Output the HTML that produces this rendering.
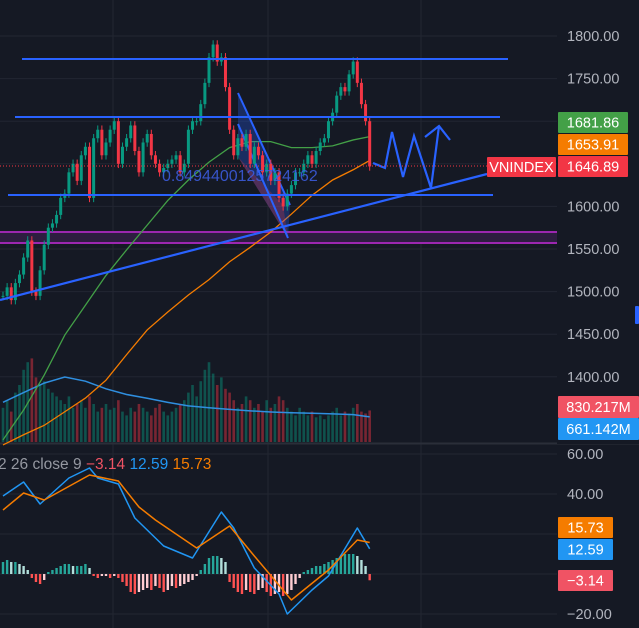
<!DOCTYPE html>
<html><head><meta charset="utf-8"><style>
html,body{margin:0;padding:0;background:#151924;overflow:hidden}
svg{display:block;font-family:"Liberation Sans",sans-serif}
</style></head><body>
<svg id="c" width="639" height="628" viewBox="0 0 639 628">
<rect width="639" height="628" fill="#151924"/>
</svg>
<script>
const closes=[1495,1505,1490,1510,1520,1540,1560,1500,1495,1525,1555,1575,1580,1590,1610,1615,1640,1650,1630,1660,1670,1610,1680,1690,1660,1675,1690,1700,1650,1670,1680,1695,1665,1640,1675,1685,1660,1650,1640,1645,1650,1655,1660,1640,1650,1690,1700,1700,1720,1745,1775,1790,1770,1775,1740,1690,1660,1680,1670,1685,1650,1670,1660,1640,1650,1630,1640,1610,1600,1615,1625,1640,1640,1650,1660,1650,1665,1675,1680,1700,1710,1730,1740,1735,1755,1770,1745,1720,1700,1646.89];
const volumes=[900,1100,800,1300,1500,1900,2100,2200,1700,1500,1600,1400,1300,1200,1100,1000,1200,900,1000,1100,900,1200,1000,800,900,1000,850,900,1100,800,700,900,800,1000,900,800,700,900,1000,800,700,800,900,1000,1100,1300,1500,1200,1600,1900,2100,1800,1500,1700,1400,1300,1100,900,1000,1200,1100,900,1000,800,1100,900,1000,1200,1100,900,800,700,900,800,700,800,650,700,600,700,800,900,700,800,750,900,1000,800,750,830.217];
const ma50Idx=[0,5,10,15,20,25,30,35,40,45,50,55,60,65,70,75,80,85,89];
const ma50=[1326,1361,1402,1449,1484,1519,1549,1578,1607,1631,1652,1669,1676,1676,1669,1669,1671,1678,1681.86];
const ma200=[1320,1332,1343,1359,1375,1396,1426,1455,1476,1496,1514,1535,1552,1570,1591,1613,1631,1643,1653.91];
const volMa=[1044,1300,1550,1711,1600,1400,1250,1150,1044,950,900,860,820,790,770,755,740,720,661.142];
const macdIdx=[0,5,9,16,21,23,28,32,39,46,53,56,61,67,69,75,79,86,89];
const macdVals=[39,46,35,48,53,48,45,28,14,8,31,23,3,-10,-20,-8,-1,23,12.59];
const sigIdx=[0,5,10,21,28,33,37,47,55,61,70,79,86,89];
const sigVals=[32,40.5,37,49.5,46.5,33.5,27,13,24,9,-13,2,17,15.73];
const hist=[6,7,6,6,5,4,2,-2,-4,-5,-3,1,2,3,4,5,5,4,4,4,5,3,-1,-2,-1,-1,-2,-1,-2,-4,-6,-9,-10,-9,-8,-7,-8,-6,-7,-9,-8,-6,-7,-6,-5,-4,-3,-1,2,5,8,9,9,8,6,-4,-7,-9,-10,-8,-9,-10,-8,-7,-9,-11,-10,-9,-11,-10,-8,-5,-2,1,2,3,4,4,5,6,7,8,9,10,10,10,9,7,4,-3.14];
const priceTicks=[1800,1750,1700,1650,1600,1550,1500,1450,1400];
const macdTicks=[60,40,20,0,-20];

const NS="http://www.w3.org/2000/svg",svg=document.getElementById('c');
function el(t,a,p){const e=document.createElementNS(NS,t);for(const k in a)e.setAttribute(k,a[k]);(p||svg).appendChild(e);return e;}
const xOf=i=>3+i*4.12;
const yP=p=>36+(1800-p)*0.852;
const yV=v=>442-v*0.038;
const yM=v=>454+(60-v)*2;

const g=el('g',{});

[113,268,421].forEach(x=>el('line',{x1:x,y1:0,x2:x,y2:628,stroke:'#222632','stroke-width':1},g));
priceTicks.forEach(p=>el('line',{x1:0,y1:yP(p),x2:557,y2:yP(p),stroke:'#222632'},g));
macdTicks.forEach(v=>el('line',{x1:0,y1:yM(v),x2:557,y2:yM(v),stroke:'#222632'},g));
el('line',{x1:0,y1:443.5,x2:639,y2:443.5,stroke:'#2a2e39','stroke-width':2},g);

const pz=el('rect',{x:0,y:232,width:557,height:11,fill:'#2d1d40'});

el('line',{x1:0,y1:232,x2:557,y2:232,stroke:'#9c27b0','stroke-width':2});
el('line',{x1:0,y1:243,x2:557,y2:243,stroke:'#9c27b0','stroke-width':2});

closes.forEach((c,i)=>{const o=i?closes[i-1]:c;const v=volumes[i];
 const r=el('rect',{x:xOf(i)-1.3,y:yV(v),width:2.6,height:442-yV(v),fill:c>=o?'rgba(8,153,129,0.45)':'rgba(242,54,69,0.45)'});
 });
const vm=el('polyline',{points:ma50Idx.map((k,j)=>xOf(k)+','+yV(volMa[j])).join(' '),fill:'none',stroke:'#2f8fe0','stroke-width':1.5});


const l1=el('polyline',{points:ma50Idx.map((k,j)=>xOf(k)+','+yP(ma50[j])).join(' '),fill:'none',stroke:'#43a047','stroke-width':1.3});

const l2=el('polyline',{points:ma50Idx.map((k,j)=>xOf(k)+','+yP(ma200[j])).join(' '),fill:'none',stroke:'#f57c00','stroke-width':1.3});


const ch=el('polygon',{points:'238,93 290,205 288,238 238,157',fill:'rgba(41,98,255,0.28)'});

el('polygon',{points:'238,157 288,238 283,205',fill:'rgba(242,54,69,0.25)'});
el('line',{x1:238,y1:93,x2:290,y2:205,stroke:'#2962ff','stroke-width':2});
el('line',{x1:238,y1:124,x2:288,y2:238,stroke:'#2962ff','stroke-width':2});

closes.forEach((c,i)=>{const o=i?closes[i-1]:c;const up=c>=o;const col=up?'#089981':'#f23645';
 const cg=el('g',{});
 
 el('line',{x1:xOf(i),y1:yP(Math.max(o,c)+5),x2:xOf(i),y2:yP(Math.min(o,c)-5),stroke:col,'stroke-width':1},cg);
 const t=yP(Math.max(o,c)),b=yP(Math.min(o,c));
 el('rect',{x:xOf(i)-1.5,y:t,width:3,height:Math.max(1,b-t),fill:col},cg);});

[[22,59,508],[15,117,500],[8,195,493]].forEach(a=>{const h=el('line',{x1:a[0],y1:a[1],x2:a[2],y2:a[1],stroke:'#2962ff','stroke-width':2});
 });
const tl=el('line',{x1:0,y1:300,x2:487,y2:174,stroke:'#2962ff','stroke-width':2.2});

const zz=el('polyline',{points:'373,163 385,168 392,132 403,177 414,136 431,188 439,126',fill:'none',stroke:'#2962ff','stroke-width':2.2});

el('polyline',{points:'425,137 439,126 450,140',fill:'none',stroke:'#2962ff','stroke-width':2.2});
const lbl=el('text',{x:162,y:181,fill:'#3d5fe6','font-size':16,opacity:0.85});lbl.textContent='0.8494400125724162';

el('line',{x1:0,y1:166,x2:557,y2:166,stroke:'#f23645','stroke-width':1,'stroke-dasharray':'1 2'});

priceTicks.forEach(p=>{const t=el('text',{x:567,y:yP(p)+5,fill:'#b2b5be','font-size':14.5});t.textContent=p.toFixed(2);
 });
function box(x,y,w,h,fill,txt,name){const b=el('g',{});
 el('rect',{x:x,y:y,width:w,height:h,fill:fill,rx:1},b);const t=el('text',{x:x+w/2,y:y+h/2+5,fill:'#fff','font-size':14.5,'text-anchor':'middle'},b);t.textContent=txt;}
el('rect',{x:557,y:430,width:82,height:14,fill:'#151924'});
box(558,112,70,21,'#43a047','1681.86','ma-green-label');
box(558,134,70,21,'#f57c00','1653.91','ma-orange-label');
box(558,156,70,21,'#f23645','1646.89','last-price-label');
box(487,157,69,20,'#f23645','VNINDEX','symbol-label');
box(558,396,81,22,'#f05364','830.217M','volume-label');
box(558,418,81,22,'#2196f3','661.142M','volume-ma-label');
el('rect',{x:635,y:306,width:4,height:18,fill:'#2962ff',rx:1});

hist.forEach((h,i)=>{const p=i?hist[i-1]:h;let col;
 if(h>=0)col=h>=p?'#26a69a':'#b2dfdb';else col=h<p?'#ff5252':'#ffcdd2';
 const y0=yM(0),y1=yM(h);
 const r=el('rect',{x:xOf(i)-1.2,y:Math.min(y0,y1),width:2.4,height:Math.max(1,Math.abs(y1-y0)),fill:col});
 });
const ml=el('polyline',{points:macdIdx.map((k,j)=>xOf(k)+','+yM(macdVals[j])).join(' '),fill:'none',stroke:'#2196f3','stroke-width':1.5,'stroke-linejoin':'round'});

const sl=el('polyline',{points:sigIdx.map((k,j)=>xOf(k)+','+yM(sigVals[j])).join(' '),fill:'none',stroke:'#f57c00','stroke-width':1.5,'stroke-linejoin':'round'});

[60,40,-20].forEach(v=>{const t=el('text',{x:567,y:yM(v)+5,fill:'#b2b5be','font-size':14.5});t.textContent=v.toFixed(2).replace('-','−');
 });
box(558,517,55,21,'#f57c00','15.73','signal-value-label');
box(558,539,55,21,'#2196f3','12.59','macd-value-label');
box(558,570,55,21,'#f05364','−3.14','histogram-value-label');
const lg=el('text',{x:-2,y:469,'font-size':15.5,fill:'#9598a1'});

lg.innerHTML='<tspan>2 26 close 9 </tspan><tspan fill="#f05364"> −3.14 </tspan><tspan fill="#2196f3"> 12.59 </tspan><tspan fill="#f57c00"> 15.73</tspan>';
</script>
</body></html>
